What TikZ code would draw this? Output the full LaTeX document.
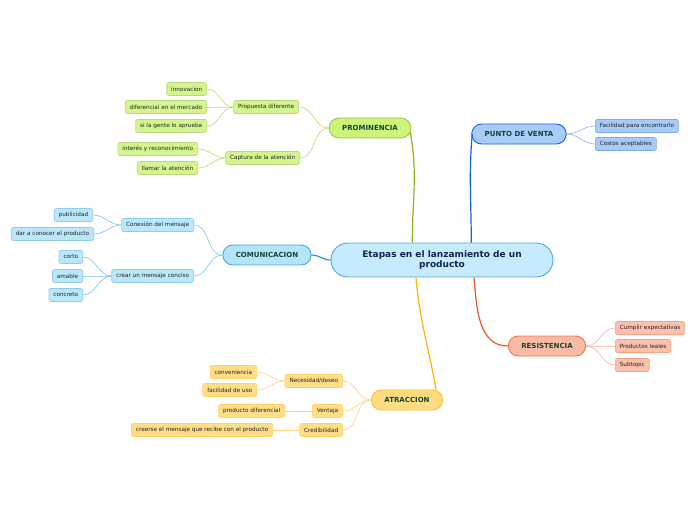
\documentclass[tikz,border=0pt]{standalone}
\usepackage{fontspec}
\setmainfont{DejaVu Sans}
\usetikzlibrary{positioning}
\definecolor{mytitle}{RGB}{20,70,50}
\definecolor{mynavy}{RGB}{20,35,80}
\definecolor{mytext}{RGB}{35,35,35}
\definecolor{mycentre}{RGB}{80,165,225}
\definecolor{hdrcentre}{RGB}{198,235,252}
\definecolor{mygreen}{RGB}{138,180,30}
\definecolor{hdrgreen}{RGB}{204,243,122}
\definecolor{lnkgreen}{RGB}{190,220,110}
\definecolor{mysky}{RGB}{40,150,215}
\definecolor{hdrsky}{RGB}{178,228,250}
\definecolor{lnksky}{RGB}{120,200,240}
\definecolor{myblue}{RGB}{20,100,220}
\definecolor{hdrblue}{RGB}{168,203,247}
\definecolor{lnkblue}{RGB}{140,180,240}
\definecolor{myred}{RGB}{240,90,40}
\definecolor{hdrred}{RGB}{250,186,166}
\definecolor{lnkred}{RGB}{250,180,160}
\definecolor{myamber}{RGB}{255,180,0}
\definecolor{hdramber}{RGB}{255,220,130}
\definecolor{lnkamber}{RGB}{255,215,130}
\tikzset{
  centre/.style={rectangle, draw=mycentre, fill=hdrcentre, rounded corners=17pt,
    line width=0.9pt, minimum width=222pt, minimum height=34pt, align=center,
    font=\fontsize{9}{10.5}\selectfont\bfseries, text=mynavy},
  topic/.style={rectangle, rounded corners=10pt, minimum height=20pt, inner xsep=13pt,
    line width=0.9pt, font=\fontsize{7}{8}\selectfont\bfseries, text=mytitle},
  sub/.style={rectangle, rounded corners=2pt, minimum height=13pt, inner xsep=4.5pt,
    inner ysep=1pt, line width=0.6pt, font=\fontsize{5.7}{6.2}\selectfont, text=mytext},
  greentopic/.style={topic, draw=mygreen!80, fill=hdrgreen},
  greensub/.style={sub, draw=mygreen!55, fill=hdrgreen!85},
  skytopic/.style={topic, draw=mysky!85, fill=hdrsky},
  skysub/.style={sub, draw=mysky!50, fill=hdrsky!90},
  bluetopic/.style={topic, draw=myblue, fill=hdrblue},
  bluesub/.style={sub, draw=myblue!55, fill=hdrblue},
  redtopic/.style={topic, draw=myred!85, fill=hdrred},
  redsub/.style={sub, draw=myred!55, fill=hdrred!90},
  ambertopic/.style={topic, draw=myamber!85, fill=hdramber},
  ambersub/.style={sub, draw=myamber!60, fill=hdramber!95},
  greenbranch/.style={line width=1.2pt, color=mygreen},
  skybranch/.style={line width=1.2pt, color=mysky},
  bluebranch/.style={line width=1.2pt, color=myblue},
  redbranch/.style={line width=1.2pt, color=myred},
  amberbranch/.style={line width=1.2pt, color=myamber},
  greenlink/.style={line width=0.6pt, color=lnkgreen},
  skylink/.style={line width=0.6pt, color=lnksky},
  bluelink/.style={line width=0.6pt, color=lnkblue},
  redlink/.style={line width=0.6pt, color=lnkred},
  amberlink/.style={line width=0.6pt, color=lnkamber}
}
\begin{document}
\begin{tikzpicture}[x=1pt, y=-1pt]
  \useasboundingbox[fill=white] (0,0) rectangle (696,520);

  % Central topic
  \node[centre] (etapas) at (442,260) {Etapas en el lanzamiento de un\\producto};

  % Main branches
  \node[greentopic] (prom) at (370,128) {PROMINENCIA};
  \node[bluetopic] (punto) at (519,134) {PUNTO DE VENTA};
  \node[skytopic] (comu) at (267,255) {COMUNICACION};
  \node[redtopic] (resi) at (547,346) {RESISTENCIA};
  \node[ambertopic] (atra) at (407,400) {ATRACCION};

  \draw[greenbranch] ([xshift=-1pt,yshift=-4pt]prom.east) to[out=-80,in=90] ([xshift=1pt]etapas.north -| prom.east);
  \draw[bluebranch] ([xshift=1pt]punto.west) to[out=-95,in=90] (etapas.north -| punto.west);
  \draw[skybranch] (comu.east) to[out=0,in=180] (etapas.west);
  \draw[redbranch] ([xshift=32pt]etapas.south) to[out=-85,in=180] (resi.west);
  \draw[amberbranch] ([xshift=-26pt]etapas.south) to[out=-85,in=100] ([xshift=-7pt]atra.north east);

  % Prominencia
  \node[greensub, anchor=east] (propuesta) at (299,107) {Propuesta diferente};
  \node[greensub, anchor=east] (captura) at (300,158) {Captura de la atención};
  \node[greensub, anchor=east] (innov) at (207,89) {innovacion};
  \node[greensub, anchor=east] (difer) at (207,107) {diferencial en el mercado};
  \node[greensub, anchor=east] (aprueba) at (207,126) {si la gente lo aprueba};
  \node[greensub, anchor=east] (interes) at (198,149) {interés y reconocimiento};
  \node[greensub, anchor=east] (llamar) at (198,168) {llamar la atención};
  \draw[greenlink] (prom.west) to[out=180,in=0] (propuesta.east);
  \draw[greenlink] (prom.west) to[out=180,in=0] (captura.east);
  \draw[greenlink] (propuesta.west) to[out=180,in=0] (innov.east);
  \draw[greenlink] (propuesta.west) to[out=180,in=0] (difer.east);
  \draw[greenlink] (propuesta.west) to[out=180,in=0] (aprueba.east);
  \draw[greenlink] (captura.west) to[out=180,in=0] (interes.east);
  \draw[greenlink] (captura.west) to[out=180,in=0] (llamar.east);

  % Comunicacion
  \node[skysub, anchor=east] (conexion) at (194,225) {Conexión del mensaje};
  \node[skysub, anchor=east] (conciso) at (194,276) {crear un mensaje conciso};
  \node[skysub, anchor=east] (publi) at (93,215) {publicidad};
  \node[skysub, anchor=east] (dar) at (94,234) {dar a conocer el producto};
  \node[skysub, anchor=east] (corto) at (83,257) {corto};
  \node[skysub, anchor=east] (amable) at (83,276) {amable};
  \node[skysub, anchor=east] (concreto) at (83,295) {concreto};
  \draw[skylink] (comu.west) to[out=180,in=0] (conexion.east);
  \draw[skylink] (comu.west) to[out=180,in=0] (conciso.east);
  \draw[skylink] (conexion.west) to[out=180,in=0] (publi.east);
  \draw[skylink] (conexion.west) to[out=180,in=0] (dar.east);
  \draw[skylink] (conciso.west) to[out=180,in=0] (corto.east);
  \draw[skylink] (conciso.west) to[out=180,in=0] (amable.east);
  \draw[skylink] (conciso.west) to[out=180,in=0] (concreto.east);

  % Punto de venta
  \node[bluesub, anchor=west] (facil) at (595,126) {Facilidad para encontrarlo};
  \node[bluesub, anchor=west] (costos) at (595,144) {Costos aceptables};
  \draw[bluelink] (punto.east) to[out=0,in=180] (facil.west);
  \draw[bluelink] (punto.east) to[out=0,in=180] (costos.west);

  % Resistencia
  \node[redsub, anchor=west] (cumplir) at (615,328) {Cumplir expectativas};
  \node[redsub, anchor=west] (leales) at (615,346) {Productos leales};
  \node[redsub, anchor=west] (subtopic) at (615,365) {Subtopic};
  \draw[redlink] (resi.east) to[out=0,in=180] (cumplir.west);
  \draw[redlink] (resi.east) to[out=0,in=180] (leales.west);
  \draw[redlink] (resi.east) to[out=0,in=180] (subtopic.west);

  % Atraccion
  \node[ambersub, anchor=east] (necesidad) at (343,381) {Necesidad/deseo};
  \node[ambersub, anchor=east] (ventaja) at (343,411) {Ventaja};
  \node[ambersub, anchor=east] (credib) at (343,430) {Credibilidad};
  \node[ambersub, anchor=east] (conven) at (257,372) {conveniencia};
  \node[ambersub, anchor=east] (facuso) at (257,390) {facilidad de uso};
  \node[ambersub, anchor=east] (prodif) at (285,411) {producto diferencial};
  \node[ambersub, anchor=east] (creerse) at (273,430) {creerse el mensaje que recibe con el producto};
  \draw[amberlink] (atra.west) to[out=180,in=0] (necesidad.east);
  \draw[amberlink] (atra.west) to[out=180,in=0] (ventaja.east);
  \draw[amberlink] (atra.west) to[out=180,in=0] (credib.east);
  \draw[amberlink] (necesidad.west) to[out=180,in=0] (conven.east);
  \draw[amberlink] (necesidad.west) to[out=180,in=0] (facuso.east);
  \draw[amberlink] (ventaja.west) -- (prodif.east);
  \draw[amberlink] (credib.west) -- (creerse.east);
\end{tikzpicture}
\end{document}
